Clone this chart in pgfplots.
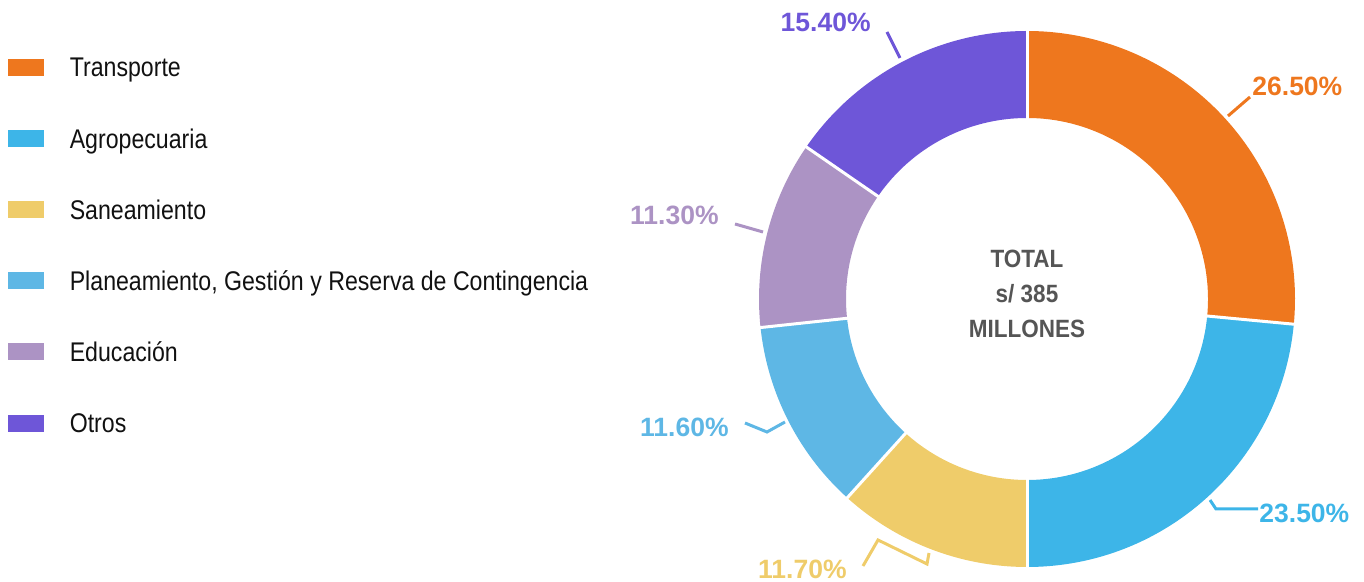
\documentclass[border=0pt]{standalone}
\usepackage{pgfplots}
\usepackage{pgfplotstable}
\pgfplotsset{compat=1.18}
\usepackage{fontspec}
\setmainfont{Liberation Sans}
\newfontfamily\legendfont{Liberation Sans}[FakeStretch=0.857]
\newfontfamily\pctfont{Liberation Sans}
\newfontfamily\centerfont{Liberation Sans}[FakeStretch=0.9]
\definecolor{cTrans}{HTML}{EE771E}
\definecolor{cAgro}{HTML}{3DB5E8}
\definecolor{cSan}{HTML}{EFCC6A}
\definecolor{cPlan}{HTML}{5EB7E5}
\definecolor{cEdu}{HTML}{AC93C4}
\definecolor{cOtros}{HTML}{6E56D8}
\definecolor{cCenter}{HTML}{555555}
\definecolor{cText}{HTML}{111111}

\pgfplotstableread{
value
26.5
23.5
11.7
11.6
11.3
15.4
}\shares

\begin{document}
\begin{tikzpicture}
\pgfplotstablegetelem{0}{value}\of\shares \let\vA\pgfplotsretval
\pgfplotstablegetelem{1}{value}\of\shares \let\vB\pgfplotsretval
\pgfplotstablegetelem{2}{value}\of\shares \let\vC\pgfplotsretval
\pgfplotstablegetelem{3}{value}\of\shares \let\vD\pgfplotsretval
\pgfplotstablegetelem{4}{value}\of\shares \let\vE\pgfplotsretval
\pgfplotstablegetelem{5}{value}\of\shares \let\vF\pgfplotsretval
\pgfmathsetmacro\aA{90}
\pgfmathsetmacro\aB{\aA-3.6*\vA}
\pgfmathsetmacro\aC{\aB-3.6*\vB}
\pgfmathsetmacro\aD{\aC-3.6*\vC}
\pgfmathsetmacro\aE{\aD-3.6*\vD}
\pgfmathsetmacro\aF{\aE-3.6*\vE}
\pgfmathsetmacro\aG{\aF-3.6*\vF}
\newcommand\sector[3]{%
  \fill[#3] (axis cs:1027,283) ++(#1:134pt) arc[start angle=#1, end angle=#2, radius=134pt]
    -- ++(#2:-43.5pt) arc[start angle=#2, end angle=#1, radius=90.5pt] -- cycle;}
\newcommand\sep[1]{%
  \draw[white, line width=1.5pt] (axis cs:1027,283) ++(#1:88pt) -- ++(#1:50pt);}
\begin{axis}[
  x=0.5pt, y=0.5pt,
  xmin=0, xmax=1364, ymin=0, ymax=582,
  hide axis, clip=false,
  legend cell align=left,
  legend style={at={(0.00587,0.9021)}, anchor=north west, draw=none, fill=none,
    inner sep=0pt, outer sep=0pt,
    font=\legendfont\fontsize{13.5}{14}\selectfont\color{cText},
    nodes={inner sep=0pt, text height=10pt, text depth=3pt},
    row sep=22.6pt, column sep=13pt},
  legend image code/.code={\fill[#1] (0pt,-2.5pt) rectangle (17.5pt,5.5pt);},
]
\addlegendimage{cTrans}
\addlegendentry{Transporte}
\addlegendimage{cAgro}
\addlegendentry{Agropecuaria}
\addlegendimage{cSan}
\addlegendentry{Saneamiento}
\addlegendimage{cPlan}
\addlegendentry{Planeamiento, Gestión y Reserva de Contingencia}
\addlegendimage{cEdu}
\addlegendentry{Educación}
\addlegendimage{cOtros}
\addlegendentry{Otros}

\sector{\aA}{\aB}{cTrans}
\sector{\aB}{\aC}{cAgro}
\sector{\aC}{\aD}{cSan}
\sector{\aD}{\aE}{cPlan}
\sector{\aE}{\aF}{cEdu}
\sector{\aF}{\aG}{cOtros}
\sep{\aA}\sep{\aB}\sep{\aC}\sep{\aD}\sep{\aE}\sep{\aF}

\node[align=center, text=cCenter, font=\centerfont\bfseries\fontsize{12.5}{17.5}\selectfont]
  at (axis cs:1027,288) {TOTAL\\s/ 385\\MILLONES};

\begin{scope}[line width=1.5pt]
\draw[cTrans] (axis cs:1228,466) -- (axis cs:1250,485);
\draw[cAgro] (axis cs:1210,82) -- (axis cs:1216,73) -- (axis cs:1258,73);
\draw[cSan] (axis cs:929,29) -- (axis cs:927,18) -- (axis cs:878,42) -- (axis cs:863,16);
\draw[cPlan] (axis cs:785,160) -- (axis cs:767,150) -- (axis cs:745,159);
\draw[cEdu] (axis cs:763,350) -- (axis cs:735,358);
\draw[cOtros] (axis cs:900,524) -- (axis cs:887,550);
\end{scope}

\begin{scope}[every node/.style={inner sep=0pt, font=\pctfont\bfseries\fontsize{13.25}{14}\selectfont}]
\node[anchor=base west, text=cTrans] at (axis cs:1252,486) {26.50\%};
\node[anchor=base west, text=cAgro] at (axis cs:1259,59) {23.50\%};
\node[anchor=base east, text=cSan] at (axis cs:847,3) {11.70\%};
\node[anchor=base east, text=cPlan] at (axis cs:729,145) {11.60\%};
\node[anchor=base east, text=cEdu] at (axis cs:719,357) {11.30\%};
\node[anchor=base east, text=cOtros] at (axis cs:871,550) {15.40\%};
\end{scope}
\end{axis}
\pgfresetboundingbox
\path (current axis.south west) rectangle (current axis.north east);
\end{tikzpicture}
\end{document}
